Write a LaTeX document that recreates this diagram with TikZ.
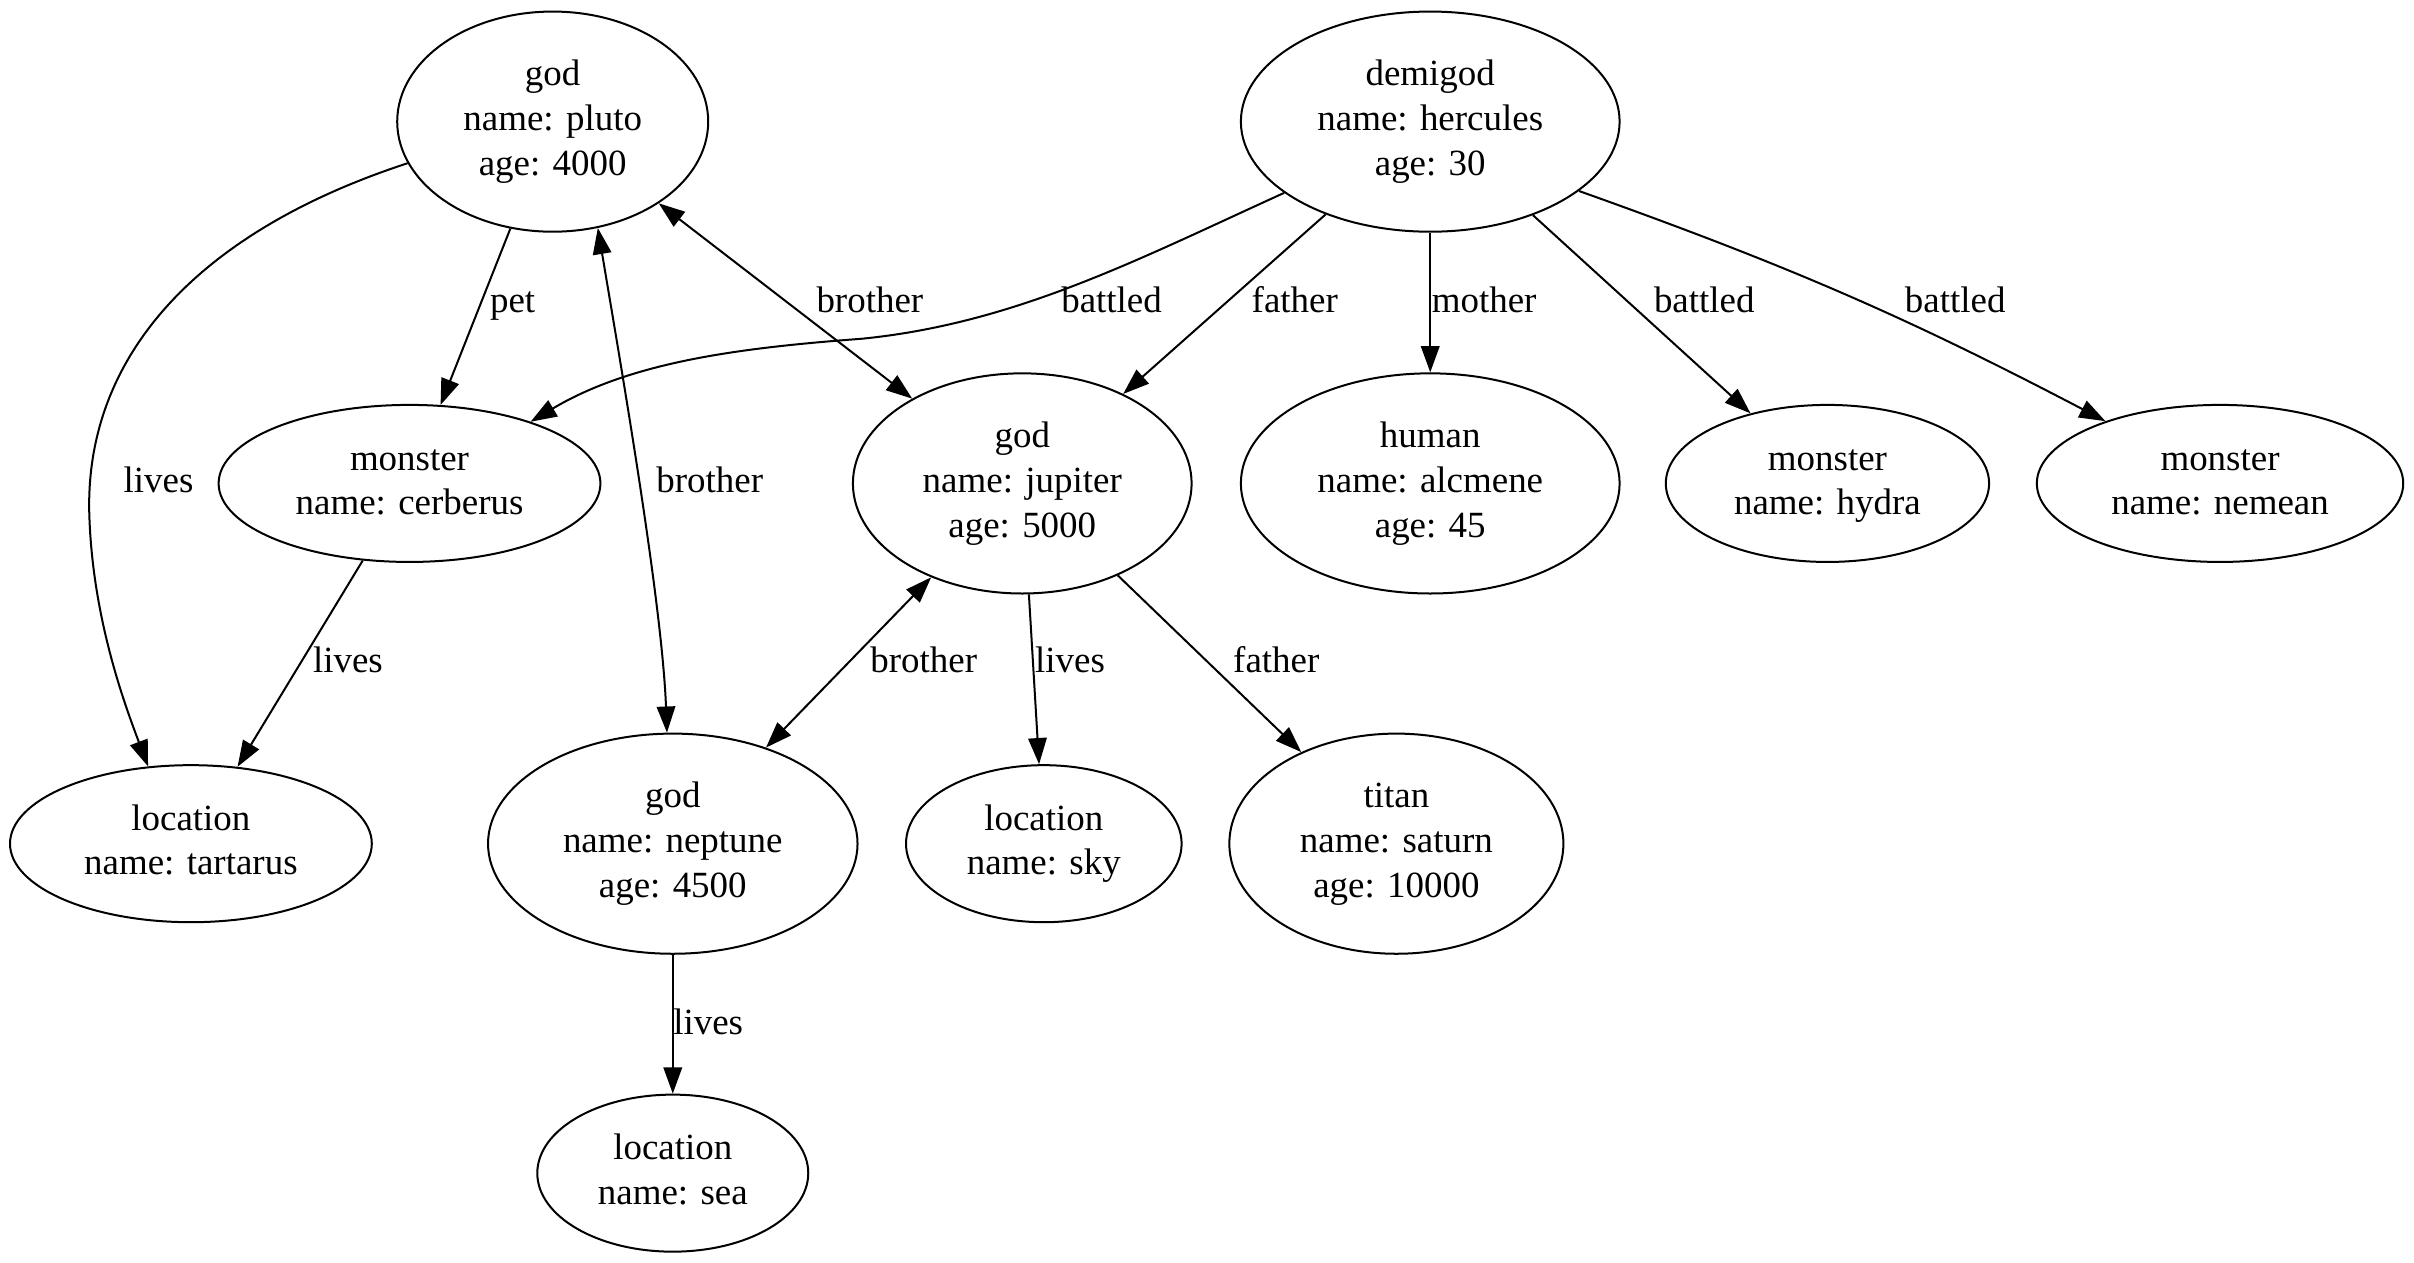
\documentclass[tikz,border=0pt]{standalone}
\usepackage{fontspec}
\setmainfont{Liberation Serif}
\usetikzlibrary{shapes.geometric,arrows.meta}
\begin{document}
\begin{tikzpicture}[x=1pt,y=-1pt,
  ent/.style={draw, ellipse, line width=1.3pt, inner sep=0pt, align=center, font=\fontsize{24}{29}\selectfont},
  three/.style={minimum height=143pt},
  two/.style={minimum height=102pt},
  lbl/.style={anchor=base, inner sep=0pt, font=\fontsize{24}{29}\selectfont},
  rel/.style={line width=1.3pt, -{Triangle[length=17pt,width=12pt]}},
  birel/.style={line width=1.3pt, {Triangle[length=17pt,width=12pt]}-{Triangle[length=17pt,width=12pt]}}]
\useasboundingbox (0,0) rectangle (1568,820);
% nodes
\node[ent, three, minimum width=202pt] (pluto) at (359,79) {\strut god\\name: pluto\\age: 4000\strut};
\node[ent, three, minimum width=246pt] (herc) at (929,79) {\strut demigod\\name: hercules\\age: 30\strut};
\node[ent, two, minimum width=248pt] (cerb) at (266,314) {\strut monster\\name: cerberus\strut};
\node[ent, three, minimum width=220pt] (jup) at (664,314) {\strut god\\name: jupiter\\age: 5000\strut};
\node[ent, three, minimum width=246pt] (alc) at (929,314) {\strut human\\name: alcmene\\age: 45\strut};
\node[ent, two, minimum width=210pt] (hydra) at (1187,314) {\strut monster\\name: hydra\strut};
\node[ent, two, minimum width=238pt] (nem) at (1442,314) {\strut monster\\name: nemean\strut};
\node[ent, two, minimum width=235pt] (tart) at (124,548) {\strut location\\name: tartarus\strut};
\node[ent, three, minimum width=240pt] (nep) at (437,548) {\strut god\\name: neptune\\age: 4500\strut};
\node[ent, two, minimum width=179pt] (sky) at (678,548) {\strut location\\name: sky\strut};
\node[ent, three, minimum width=217pt] (sat) at (907,548) {\strut titan\\name: saturn\\age: 10000\strut};
\node[ent, two, minimum width=176pt] (sea) at (437,762) {\strut location\\name: sea\strut};
% helper coordinates
\coordinate (ptbend) at (58,334);
\coordinate (hcbend) at (560,220);
% edges
\draw[rel] (pluto.196) .. controls (130,150) and (55,230) .. (ptbend) .. controls (60,400) and (80,455) .. (tart.119);
\draw[rel] (pluto) -- (cerb);
\draw[birel] (pluto) -- (jup);
\draw[birel] (pluto.-67) .. controls (402,230) and (430,390) .. (nep.93);
\draw[rel] (herc.206) .. controls (740,168) and (660,210) .. (hcbend) .. controls (480,226) and (410,235) .. (cerb.27);
\draw[rel] (herc) -- (jup);
\draw[rel] (herc) -- (alc);
\draw[rel] (herc) -- (hydra);
\draw[rel] (herc.-25) to[bend left=4] (nem);
\draw[rel] (cerb) -- (tart);
\draw[birel] (jup) -- (nep);
\draw[rel] (jup) -- (sky);
\draw[rel] (jup) -- (sat);
\draw[rel] (nep) -- (sea);
% labels
\node[lbl] (l1) at (103,320) {lives};
\node[lbl] (l2) at (333,203) {pet};
\node[lbl] (l3) at (565,203) {brother};
\node[lbl] (l4) at (722,203) {battled};
\node[lbl] (l5) at (841,203) {father};
\node[lbl] (l6) at (964,203) {mother};
\node[lbl] (l7) at (1107,203) {battled};
\node[lbl] (l8) at (1270,203) {battled};
\node[lbl] (l9) at (461,320) {brother};
\node[lbl] (l10) at (226,437) {lives};
\node[lbl] (l11) at (600,437) {brother};
\node[lbl] (l12) at (695,437) {lives};
\node[lbl] (l13) at (829,437) {father};
\node[lbl] (l14) at (460,672) {lives};
\end{tikzpicture}
\end{document}
